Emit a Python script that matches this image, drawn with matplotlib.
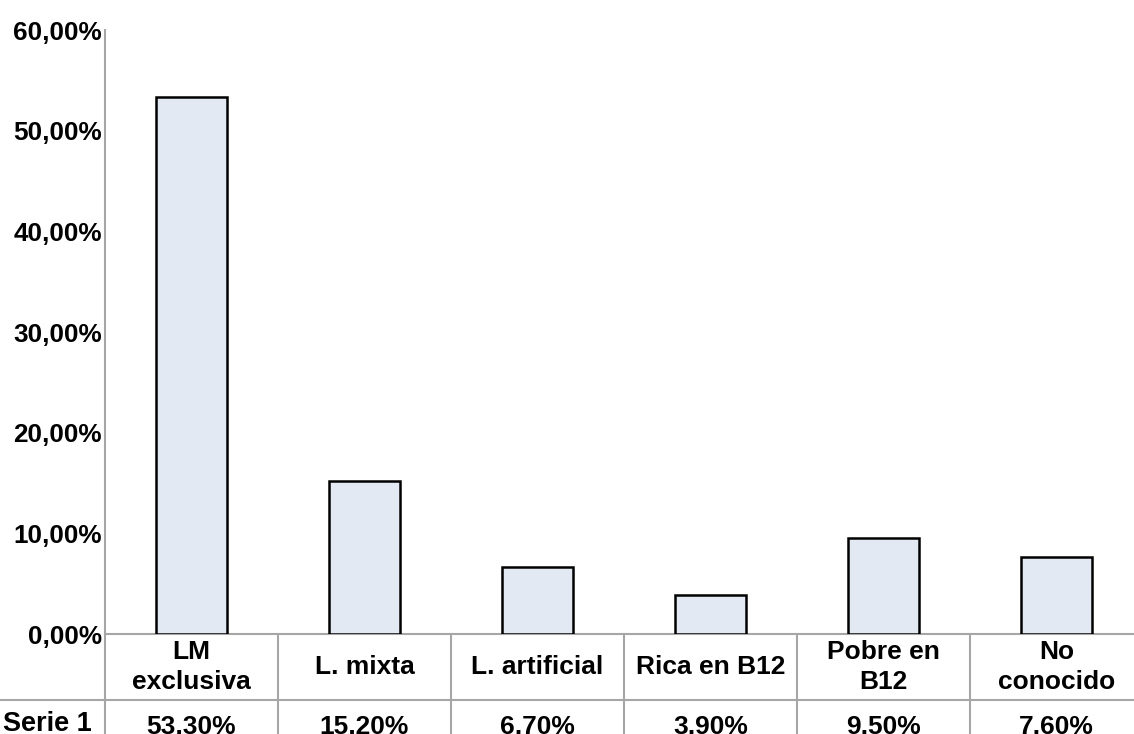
import matplotlib.pyplot as plt
from matplotlib.ticker import FuncFormatter

plt.rcParams['font.family'] = ['Liberation Sans', 'DejaVu Sans']
plt.rcParams['font.weight'] = 'bold'

categories = ["LM\nexclusiva", "L. mixta", "L. artificial", "Rica en B12", "Pobre en\nB12", "No\nconocido"]
serie_1 = [53.3, 15.2, 6.7, 3.9, 9.5, 7.6]
series_name = "Serie 1"
y_ticks = [0, 10, 20, 30, 40, 50, 60]

grid_col = "#a6a6a6"

fig = plt.figure(figsize=(11.34, 7.34), dpi=100)
# plot area runs a little past the right edge of the figure
ax = fig.add_axes([105 / 1134, 100 / 734, 1038 / 1134, 604 / 734])

x = list(range(len(categories)))
ax.bar(x, serie_1, width=0.405, color="#e2e9f3", edgecolor="black", linewidth=1.8, zorder=3)

ax.set_xlim(-0.5, len(categories) - 0.5)
ax.set_ylim(0, 60)
ax.set_yticks(y_ticks)
ax.yaxis.set_major_formatter(FuncFormatter(lambda v, p: f"{v:.2f}".replace(".", ",") + "%"))
ax.tick_params(axis="y", length=0, pad=2, labelsize=18.8)
ax.set_xticks([])
for side in ("top", "right"):
    ax.spines[side].set_visible(False)
for side in ("left", "bottom"):
    ax.spines[side].set_color(grid_col)
    ax.spines[side].set_linewidth(1.5)

# data table below the plot
tr = ax.get_xaxis_transform()
row_top = 0.0
row_mid = -66 / 604
row_bot = -110 / 604
for i in range(len(categories) + 1):
    ax.plot([i - 0.5, i - 0.5], [row_top, row_bot], transform=tr, color=grid_col,
            lw=1.5, clip_on=False)
ax.plot([-0.5 - 105 / 173, len(categories) - 0.5], [row_mid, row_mid], transform=tr,
        color=grid_col, lw=1.5, clip_on=False)

for xi, name, val in zip(x, categories, serie_1):
    ax.text(xi, (row_top + row_mid) / 2, name, transform=tr, ha="center", va="center",
            fontsize=19, fontweight="bold", linespacing=1.3, clip_on=False)
    ax.text(xi, row_mid - 27 / 604, f"{val:.2f}".replace(".", ",") + "%", transform=tr,
            ha="center", va="center", fontsize=19, fontweight="bold", clip_on=False)

fig.text(3 / 1134, (734 - 724) / 734, series_name, ha="left", va="center",
         fontsize=19.5, fontweight="bold")

fig.savefig("out.png", dpi=100)
